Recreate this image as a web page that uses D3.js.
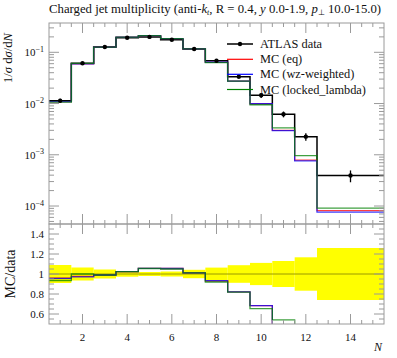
<!DOCTYPE html>
<html><head><meta charset="utf-8">
<script src="https://cdn.jsdelivr.net/npm/d3@7"></script>
<style>body{margin:0;background:#fff}svg{display:block}text{font-family:"Liberation Serif",serif;fill:#111}</style>
</head><body>
<script>
// ---- data ----
const binEdges = [0.5,1.5,2.5,3.5,4.5,5.5,6.5,7.5,8.5,9.5,10.5,11.5,12.5,15.5];
const dataCenters = [1,2,3,4,5,6,7,8,9,10,11,12,14];
const dataVals = [0.0114,0.061,0.127,0.193,0.200,0.176,0.116,0.0686,0.0335,0.0145,0.00618,0.00226,0.000393];
const dataErrRel = [0.09,0.065,0.045,0.027,0.02,0.025,0.042,0.064,0.088,0.111,0.13,0.167,0.26];
const mcEq = [0.01094,0.0595,0.1257,0.1974,0.2114,0.1857,0.1172,0.0638,0.0275,0.0099,0.00300,0.00079,0.000081];
const mcWz = [0.01089,0.0592,0.1257,0.1974,0.2114,0.1857,0.1172,0.0640,0.0275,0.0099,0.00296,0.00076,0.000076];
const mcLocked = [0.01066,0.0610,0.1257,0.1974,0.2110,0.1848,0.1172,0.0631,0.0274,0.00947,0.00334,0.00096,0.000091];
const seriesNames = ["ATLAS data","MC (eq)","MC (wz-weighted)","MC (locked_lambda)"];
const seriesColors = ["#000000","#ff0000","#0000ff","#008000"];
const xMajorTicks = [2,4,6,8,10,12,14];
const yMainTicks = [-4,-3,-2,-1];
const yRatioTicks = [0.6,0.8,1,1.2,1.4];

const W=397,H=358;
const L=49,R=384,T=23,MB=224,RB=324;
const svg=d3.select("body").append("svg").attr("width",W).attr("height",H);
const x=d3.scaleLinear().domain([0.5,15.5]).range([L,R]);
const y=d3.scaleLog().domain([Math.pow(10,-4.351),Math.pow(10,-0.428)]).range([MB,T]);
const yr=d3.scaleLinear().domain([0.5,1.5]).range([RB,MB]);

const defs=svg.append("defs");
defs.append("clipPath").attr("id","cm").append("rect").attr("x",L).attr("y",T).attr("width",R-L).attr("height",MB-T);
defs.append("clipPath").attr("id","cr").append("rect").attr("x",L).attr("y",MB).attr("width",R-L).attr("height",RB-MB);

function stepPts(vals){const p=vals.map((v,i)=>[binEdges[i],v]);p.push([binEdges[binEdges.length-1],vals[vals.length-1]]);return p;}
const lineMain=d3.line().x(d=>x(d[0])).y(d=>y(d[1])).curve(d3.curveStepAfter);
const lineRatio=d3.line().x(d=>x(d[0])).y(d=>yr(d[1])).curve(d3.curveStepAfter);

// ---- main panel ----
const gm=svg.append("g").attr("clip-path","url(#cm)");
gm.append("path").attr("d",lineMain(stepPts(dataVals))).attr("fill","none").attr("stroke","#000").attr("stroke-width",1.5);
[mcEq,mcWz,mcLocked].forEach((s,i)=>{
  gm.append("path").attr("d",lineMain(stepPts(s))).attr("fill","none").attr("stroke",seriesColors[i+1]).attr("stroke-width",1.3).attr("stroke-opacity",0.75);
});
dataVals.forEach((v,i)=>{
  const e=dataErrRel[i];
  gm.append("line").attr("x1",x(dataCenters[i])).attr("x2",x(dataCenters[i])).attr("y1",y(v*(1+e))).attr("y2",y(v*(1-e))).attr("stroke","#000").attr("stroke-width",1.3);
  gm.append("circle").attr("cx",x(dataCenters[i])).attr("cy",y(v)).attr("r",2.2).attr("fill","#000");
});

// ---- ratio panel ----
const gr=svg.append("g").attr("clip-path","url(#cr)");
dataErrRel.forEach((e,i)=>{
  gr.append("rect").attr("x",x(binEdges[i])).attr("width",x(binEdges[i+1])-x(binEdges[i])).attr("y",yr(1+e)).attr("height",yr(1-e)-yr(1+e)).attr("fill","#ffff00");
});
gr.append("line").attr("x1",L).attr("x2",R).attr("y1",yr(1)).attr("y2",yr(1)).attr("stroke","#9a9a00").attr("stroke-width",1);
[mcEq,mcWz,mcLocked].forEach((s,i)=>{
  const r=s.map((v,j)=>v/dataVals[j]);
  gr.append("path").attr("d",lineRatio(stepPts(r))).attr("fill","none").attr("stroke",seriesColors[i+1]).attr("stroke-width",1.3).attr("stroke-opacity",0.75);
});

// ---- frames & ticks ----
const fc="#9a9a9a";
function frame(t,b){svg.append("rect").attr("x",L).attr("y",t).attr("width",R-L).attr("height",b-t).attr("fill","none").attr("stroke",fc).attr("stroke-width",1);}
frame(T,MB);frame(MB,RB);
function tick(x1,y1,x2,y2){svg.append("line").attr("x1",x1).attr("y1",y1).attr("x2",x2).attr("y2",y2).attr("stroke",fc).attr("stroke-width",1);}
const xMinor=d3.range(1,15.5,0.5);
[[T,1],[MB,-1],[MB,1],[RB,-1]].forEach(([yy,dir])=>{
  xMinor.forEach(v=>{const major=xMajorTicks.includes(v);tick(x(v),yy,x(v),yy+dir*(major?10:4));});
});
for(let d=-5;d<=0;d++){for(let m=1;m<=9;m++){const v=m*Math.pow(10,d);if(v<y.domain()[0]||v>y.domain()[1])continue;const len=m===1?10:5;tick(L,y(v),L+len,y(v));tick(R,y(v),R-len,y(v));}}
d3.range(0.55,1.5,0.05).forEach(v=>{const major=Math.abs(Math.round(v*5)-v*5)<1e-6;const len=major?10:5;tick(L,yr(v),L+len,yr(v));tick(R,yr(v),R-len,yr(v));});

xMajorTicks.forEach(v=>{svg.append("text").attr("x",x(v)).attr("y",341).attr("text-anchor","middle").attr("font-size",11).text(v);});
yMainTicks.forEach(d=>{
  const t=svg.append("text").attr("x",44).attr("y",y(Math.pow(10,d))+4).attr("text-anchor","end").attr("font-size",11);
  t.append("tspan").text("10");
  t.append("tspan").attr("dy",-4.5).attr("font-size",8).text("\u2212"+(-d));
});
yRatioTicks.forEach(v=>{svg.append("text").attr("x",44).attr("y",yr(v)+4).attr("text-anchor","end").attr("font-size",11).text(v===1?"1":v.toFixed(1));});

svg.append("text").attr("x",R-2).attr("y",351).attr("text-anchor","end").attr("font-size",12).attr("font-style","italic").text("N");
const yl=svg.append("text").attr("transform","translate(12,33) rotate(-90)").attr("text-anchor","end").attr("font-size",12);
yl.append("tspan").text("1/");yl.append("tspan").attr("font-style","italic").text("\u03c3");
yl.append("tspan").text(" d");yl.append("tspan").attr("font-style","italic").text("\u03c3");
yl.append("tspan").text("/d");yl.append("tspan").attr("font-style","italic").text("N");
{const len=yl.node().getComputedTextLength();yl.attr("font-size",Math.min(16,12*50/len));}
const rl=svg.append("text").attr("transform","translate(15,274) rotate(-90)").attr("text-anchor","middle").attr("font-size",12).text("MC/data");
{const len=rl.node().getComputedTextLength();rl.attr("font-size",Math.min(14,12*52/len));}

const tt=svg.append("text").attr("x",49).attr("y",13).attr("font-size",12);
tt.append("tspan").text("Charged jet multiplicity (anti-");
tt.append("tspan").attr("font-style","italic").text("k");
tt.append("tspan").attr("font-style","italic").attr("font-size",8).attr("dy",2).text("t");
tt.append("tspan").attr("dy",-2).text(", R = 0.4, ");
tt.append("tspan").attr("font-style","italic").text("y");
tt.append("tspan").text(" 0.0-1.9, ");
tt.append("tspan").attr("font-style","italic").text("p");
tt.append("tspan").attr("font-size",8).attr("dy",2).text("\u22a5");
tt.append("tspan").attr("dy",-2).text(" 10.0-15.0)");
{const len=tt.node().getComputedTextLength();const fs=12*333/len;tt.attr("font-size",fs);}

const legY=[44,59.3,74.3,89.5];
const legTexts=[];
seriesNames.forEach((n,i)=>{
  svg.append("line").attr("x1",227).attr("x2",253).attr("y1",legY[i]).attr("y2",legY[i]).attr("stroke",seriesColors[i]).attr("stroke-width",i===0?1.5:1.2);
  if(i===0)svg.append("circle").attr("cx",240).attr("cy",legY[i]).attr("r",2.2).attr("fill","#000");
  legTexts.push(svg.append("text").attr("x",260).attr("y",legY[i]+4).attr("font-size",12).text(n));
});
{const len=legTexts[3].node().getComputedTextLength();const fs=12*106/len;legTexts.forEach(t=>t.attr("font-size",fs));}
</script>
</body></html>
